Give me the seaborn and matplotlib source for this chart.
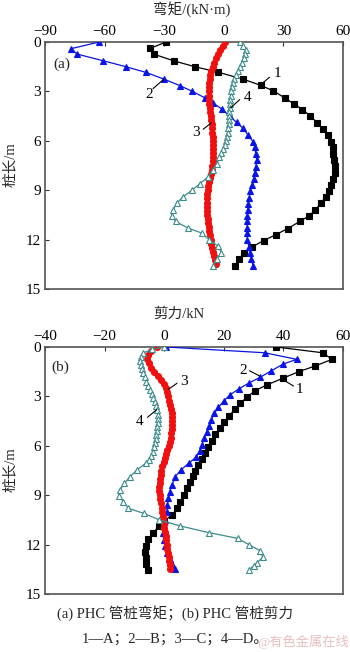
import matplotlib
matplotlib.use("Agg")
import matplotlib.pyplot as plt
import seaborn as sns
import pandas as pd

sns.set_theme(style="white")
plt.rcParams['font.family'] = ['Liberation Serif', 'Noto Sans CJK SC', 'DejaVu Sans']
plt.rcParams['axes.unicode_minus'] = True

# ---------------- Panel (a): bending moment (kN·m) vs depth (m) ----------------
a1_depth = [0, 0.38, 0.75, 1.15, 1.5, 1.84, 2.26, 2.63, 2.97, 3.42, 3.77, 4.1, 4.5, 4.9, 5.28, 5.65,
            6.05, 6.4, 6.8, 7.17, 7.53, 7.93, 8.3, 8.66, 9.03, 9.4, 9.8, 10.2, 10.55, 10.9, 11.33,
            11.7, 12.06, 12.45, 12.83, 13.2, 13.58]
a1_val = [-29, -37, -35, -25, -14.6, -2.7, 9.8, 18.5, 25, 31, 35.4, 39.6, 43.6, 47, 50, 52.5,
          54, 54.8, 55, 55.5, 55.8, 55.8, 55, 54, 53, 51.3, 48.7, 46, 43, 38.2, 32.2,
          26.2, 20, 14.2, 10, 7.5, 5.7]

a2_depth = [0, 0.4, 0.73, 1.13, 1.5, 1.84, 2.25, 2.65, 3.0, 3.38, 3.72, 4.09, 4.5, 4.88, 5.24, 5.65,
            6.05, 6.4, 6.8, 7.17, 7.57, 7.93, 8.3, 8.66, 9.07, 9.5, 9.84, 10.2, 10.56, 10.9, 11.27,
            11.6, 12.0, 12.43, 12.83, 13.2, 13.58]
a2_val = [-62.7, -76.7, -74, -61, -49.3, -39.4, -30.2, -22.1, -15.8, -9.7, -5.2, -0.8, 3, 6.4, 9.7, 12.2,
          14.7, 15.6, 16.1, 16.6, 16.1, 15.6, 15.1, 14.4, 13.4, 12.7, 12.2, 12, 11.9, 11.9, 11.7,
          11.6, 11.9, 12.6, 13.1, 13.9, 14.7]

a3_depth = [0, 0.25, 0.5, 0.75, 1.0, 1.25, 1.5, 1.75, 2.0, 2.25, 2.5, 2.75, 3.0, 3.25, 3.5, 3.75,
            4.0, 4.25, 4.5, 4.75, 5.0, 5.25, 5.5, 5.75, 6.0, 6.25, 6.5, 6.75, 7.0, 7.25, 7.5, 7.75,
            8.0, 8.25, 8.5, 8.75, 9.0, 9.25, 9.5, 9.75, 10.0, 10.25, 10.5, 10.75, 11.0, 11.25, 11.5,
            11.75, 12.0, 12.25, 12.5, 12.75, 13.0, 13.25, 13.5]
a3_val = [0.5, -0.5, -1.8, -2.8, -3.8, -4.7, -5.5, -6.2, -6.8, -7.1, -7.3, -7.5, -7.6, -7.6, -7.4, -7.2,
          -7.0, -6.8, -6.5, -6.3, -6.0, -5.8, -5.7, -5.5, -5.3, -5.2, -5.2, -5.2, -5.3, -5.4, -5.7, -6.1,
          -6.6, -7.0, -7.4, -7.8, -8.1, -8.3, -8.4, -8.5, -8.5, -8.5, -8.4, -8.2, -8.0, -7.7, -7.4,
          -7.0, -6.6, -6.2, -5.8, -5.4, -5.0, -4.5, -3.8]

a4_depth = [0, 0.25, 0.5, 0.75, 1.0, 1.25, 1.5, 1.75, 2.0, 2.25, 2.5, 2.75, 3.0, 3.25, 3.5, 3.75,
            4.0, 4.25, 4.5, 4.75, 5.0, 5.25, 5.5, 5.75, 6.0, 6.25, 6.5, 6.75, 7.0, 7.4, 7.8, 8.2,
            8.6, 9.0, 9.4, 9.8, 10.2, 10.56, 10.9, 11.3, 11.6, 12.0, 12.4, 12.8, 13.15, 13.58]
a4_val = [8, 9.5, 11, 10.8, 10, 9, 8, 7, 6, 5.3, 4.7, 4.2, 3.8, 3.5, 3.2, 3.0,
          2.9, 2.8, 2.7, 2.6, 2.4, 2.2, 1.9, 1.5, 1.0, 0.4, -0.3, -1.2, -2.2, -3.5, -5.5, -8,
          -12, -16, -20.5, -23.8, -25.5, -26.3, -24.2, -18, -11.2, -7.4, -2.9, -1.2, -3.4, -5.4]

# ---------------- Panel (b): shear force (kN) vs depth (m) ----------------
b1_depth = [0, 0.35, 0.75, 1.15, 1.5, 1.9, 2.3, 2.65, 3.06, 3.42, 3.78, 4.19, 4.53, 4.94, 5.3, 5.69,
            6.05, 6.45, 6.82, 7.18, 7.5, 7.85, 8.2, 8.58, 8.99, 9.39, 9.8, 10.2, 10.6, 10.9, 11.27,
            11.68, 12.08, 12.43, 12.83, 13.2, 13.54]
b1_val = [37.6, 53.2, 56.3, 50.7, 45.1, 39.8, 34.5, 30.5, 27.7, 25.5, 23.6, 21.9, 20.2, 18.6, 17.1, 15.9,
          14.8, 13.8, 12.6, 11.5, 10.5, 9.5, 8.5, 7.6, 6.5, 5.4, 4.3, 2.6, -0.2, -1.9, -3.6,
          -5.3, -6.0, -6.3, -6.2, -6.0, -5.6]

b2_depth = [0, 0.35, 0.75, 1.03, 1.46, 1.84, 2.2, 2.55, 2.9, 3.26, 3.66, 4.03, 4.43, 4.8, 5.18, 5.55,
            5.95, 6.3, 6.7, 7.06, 7.47, 7.87, 8.38, 8.79, 9.19, 9.6, 10.0, 10.5, 10.9, 11.3, 11.7,
            12.1, 12.5, 12.9, 13.2, 13.5]
b2_val = [0.7, 33.7, 44.5, 40, 35.8, 32.2, 28.3, 25, 22.1, 20.1, 18.2, 16.8, 15.8, 15.2, 14.3, 13.4,
          12.6, 11.9, 10.7, 8.2, 5.6, 3.7, 2.6, 1.8, 1.4, 1.1, 0.9, 0.3, -0.2, -0.4, -0.2,
          0.3, 0.9, 1.8, 2.6, 3.7]

b3_depth = [0, 0.25, 0.5, 0.75, 1.0, 1.25, 1.5, 1.75, 2.0, 2.25, 2.5, 2.75, 3.0, 3.25, 3.5, 3.75,
            4.0, 4.25, 4.5, 4.75, 5.0, 5.25, 5.5, 5.75, 6.0, 6.25, 6.5, 6.75, 7.0, 7.25, 7.5, 7.75,
            8.0, 8.25, 8.5, 8.75, 9.0, 9.25, 9.5, 9.75, 10.0, 10.25, 10.5, 10.75, 11.0, 11.25, 11.5,
            11.75, 12.0, 12.25, 12.5, 12.75, 13.0, 13.25, 13.5]
b3_val = [-2.5, -4.5, -5.6, -5.8, -5.2, -4.3, -3.3, -2.2, -1.0, 0.1, 0.6, 1.0, 1.4, 1.7, 2.0, 2.3,
          2.5, 2.6, 2.7, 2.7, 2.6, 2.4, 2.2, 1.9, 1.5, 1.1, 0.6, 0.2, -0.2, -0.6, -1.0, -1.2,
          -1.4, -1.5, -1.6, -1.6, -1.5, -1.3, -1.1, -0.9, -0.7, -0.5, -0.3, -0.1, 0.1, 0.3, 0.5,
          0.7, 0.9, 1.1, 1.3, 1.5, 1.7, 1.9, 2.0]

b4_depth = [0, 0.15, 0.35, 0.6, 0.85, 1.1, 1.35, 1.6, 1.85, 2.1, 2.35, 2.6, 2.85, 3.1, 3.35, 3.6,
            3.85, 4.1, 4.35, 4.6, 4.85, 5.1, 5.35, 5.6, 5.85, 6.1, 6.35, 6.6, 6.85, 7.06, 7.47, 7.87,
            8.28, 8.68, 9.05, 9.39, 9.8, 10.1, 10.5, 10.87, 11.27, 11.62, 12.02, 12.37, 12.77, 13.1,
            13.3, 13.54]
b4_val = [-0.2, -4, -7, -7.8, -8, -7.8, -7.4, -7, -6.5, -6, -5.3, -4.7, -4.1, -3.6, -3.1, -2.7,
          -2.4, -2.1, -2.0, -2.1, -2.3, -2.5, -2.7, -2.9, -3.1, -3.4, -3.8, -4.4, -5.2, -6.2, -9.2, -11.4,
          -13.4, -14.8, -15.3, -13.7, -12, -6.9, -1.6, 5.4, 14.9, 24.6, 28.6, 32.2, 33.1, 31.1,
          30, 28.3]

xticks_a = [-90, -60, -30, 0, 30, 60]
xticks_b = [-40, -20, 0, 20, 40, 60]
yticks = [0, 3, 6, 9, 12, 15]

BLACK = "#000000"
BLUE = "#0a14e6"
RED = "#f01010"
TEAL = "#3c8c8c"
FRAME = "#555555"

fig = plt.figure(figsize=(3.5, 6.52), dpi=100)
fig.patch.set_facecolor("white")
ax_a = fig.add_axes([45 / 350, 1 - 289 / 652, 298 / 350, 247 / 652])
ax_b = fig.add_axes([45 / 350, 1 - 594 / 652, 298 / 350, 247 / 652])


def draw(ax, d, v, color, marker, ms, mfc=None):
    df = pd.DataFrame({"v": v, "d": d})
    sns.lineplot(data=df, x="v", y="d", sort=False, estimator=None, ax=ax,
                 color=color, lw=0.9, marker=marker, markersize=ms,
                 markerfacecolor=(mfc if mfc else color), markeredgecolor=color,
                 markeredgewidth=0.8, zorder=3)


def style(ax, xlim, xticks):
    ax.set_xlim(*xlim)
    ax.set_ylim(15, 0)
    ax.set_xticks(xticks)
    ax.set_yticks(yticks)
    ax.set_xticklabels([("\u2212" + str(-t)) if t < 0 else str(t) for t in xticks])
    ax.xaxis.tick_top()
    ax.tick_params(axis="both", direction="in", length=3, width=0.8, colors="#333333",
                   labelsize=11, labelcolor="black")
    ax.tick_params(axis="x", top=True, bottom=False, pad=3)
    ax.tick_params(axis="y", left=True, right=False, pad=3)
    ax.set_xlabel("")
    ax.set_ylabel("")
    for s in ax.spines.values():
        s.set_color(FRAME)
        s.set_linewidth(1.2)
    ax.set_facecolor("white")


# Panel (a)
draw(ax_a, a1_depth, a1_val, BLACK, "s", 4)
draw(ax_a, a2_depth, a2_val, BLUE, "^", 4.5)
draw(ax_a, a3_depth, a3_val, RED, "o", 4.3)
draw(ax_a, a4_depth, a4_val, TEAL, "^", 5, mfc="white")
style(ax_a, (-90, 60), xticks_a)

# Panel (b)
draw(ax_b, b1_depth, b1_val, BLACK, "s", 4)
draw(ax_b, b2_depth, b2_val, BLUE, "^", 4.5)
draw(ax_b, b3_depth, b3_val, RED, "o", 4.3)
draw(ax_b, b4_depth, b4_val, TEAL, "^", 5, mfc="white")
style(ax_b, (-40, 60), xticks_b)

lab_kw = dict(fontsize=11, color="black", ha="center", va="center", zorder=5)
lead_kw = dict(color="black", lw=0.8, zorder=5)

# Annotations panel (a)
ax_a.plot([18.5, 23], [2.6, 2.14], **lead_kw)
ax_a.text(27.2, 1.94, "1", **lab_kw)
ax_a.plot([-30.5, -35.6], [2.29, 2.83], **lead_kw)
ax_a.text(-37.7, 3.2, "2", **lab_kw)
ax_a.plot([-6.2, -10.4], [4.9, 5.3], **lead_kw)
ax_a.text(-14, 5.5, "3", **lab_kw)
ax_a.plot([3.4, 8], [4.0, 3.5], **lead_kw)
ax_a.text(12.2, 3.4, "4", **lab_kw)
ax_a.text(0.055, 0.91, "(a)", transform=ax_a.transAxes, fontsize=11, ha="center", va="center")

# Annotations panel (b)
ax_b.plot([40, 43.4], [2.0, 2.37], **lead_kw)
ax_b.text(45.4, 2.57, "1", **lab_kw)
ax_b.plot([32, 28.6], [1.76, 1.44], **lead_kw)
ax_b.text(26.6, 1.4, "2", **lab_kw)
ax_b.plot([1.4, 4.3], [2.57, 2.2], **lead_kw)
ax_b.text(6.5, 2.1, "3", **lab_kw)
ax_b.plot([-2.5, -5.6], [3.8, 4.27], **lead_kw)
ax_b.text(-8.3, 4.5, "4", **lab_kw)
ax_b.text(0.05, 0.92, "(b)", transform=ax_b.transAxes, fontsize=11, ha="center", va="center")

# Axis titles
fig.text(153 / 350, 1 - 9 / 652, "弯矩/(kN·m)", fontsize=10.5, ha="left", va="center")
fig.text(153 / 350, 1 - 314 / 652, "剪力/kN", fontsize=10.5, ha="left", va="center")
fig.text(10 / 350, 1 - 165 / 652, "桩长/m", fontsize=10.5, ha="center", va="center", rotation=90)
fig.text(10 / 350, 1 - 470 / 652, "桩长/m", fontsize=10.5, ha="center", va="center", rotation=90)

# Caption
fig.text(175 / 350, 1 - 613 / 652, "(a) PHC 管桩弯矩；(b) PHC 管桩剪力", fontsize=10.5,
         ha="center", va="center")
fig.text(175 / 350, 1 - 639 / 652, "1—A；2—B；3—C；4—D。", fontsize=10.5,
         ha="center", va="center")
fig.text(349 / 350, 1 - 642 / 652, "@有色金属在线", fontsize=9.5, color="#e6b4b4",
         ha="right", va="center", alpha=0.85)

fig.savefig("out.png", dpi=100, facecolor="white")
